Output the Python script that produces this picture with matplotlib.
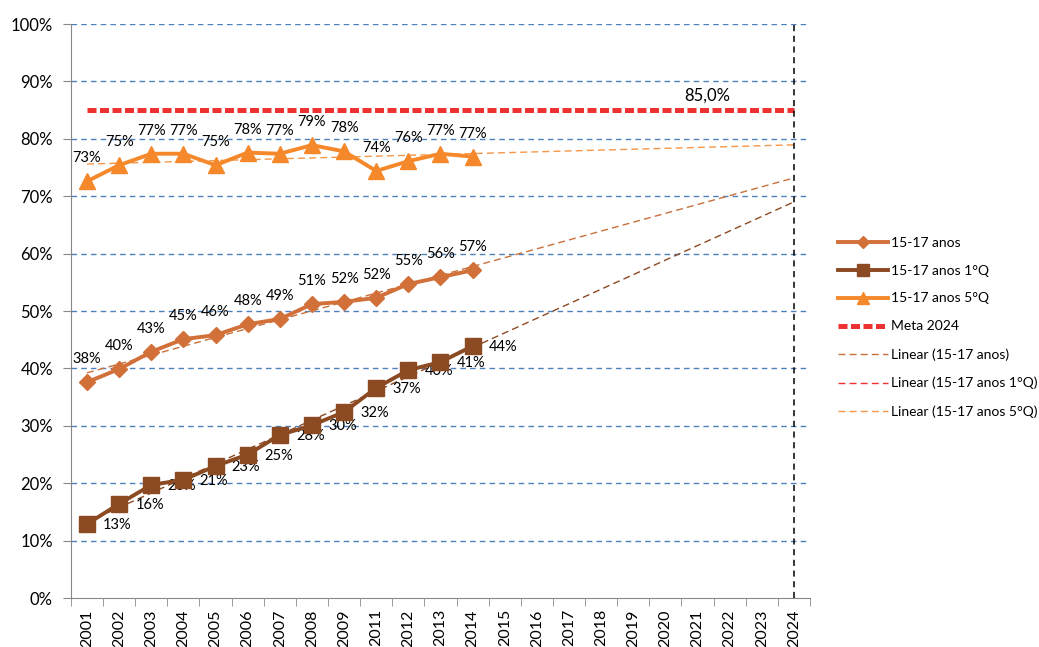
import numpy as np
import matplotlib
matplotlib.use("Agg")
import matplotlib.pyplot as plt
from matplotlib.lines import Line2D

plt.rcParams['font.family'] = ['Lato', 'DejaVu Sans']

anos = ['2001', '2002', '2003', '2004', '2005', '2006', '2007', '2008', '2009',
        '2011', '2012', '2013', '2014', '2015', '2016', '2017', '2018', '2019',
        '2020', '2021', '2022', '2023', '2024']

# taxas observadas (%), 2001-2014
total = [37.6, 39.9, 42.9, 45.1, 45.8, 47.7, 48.6, 51.2, 51.6, 52.3, 54.7, 55.9, 57.1]
q1 = [12.9, 16.4, 19.7, 20.6, 23.0, 25.0, 28.4, 30.1, 32.4, 36.6, 39.7, 41.1, 43.9]
q5 = [72.6, 75.4, 77.4, 77.4, 75.4, 77.6, 77.4, 78.9, 77.8, 74.4, 76.1, 77.4, 76.9]
meta = 85.0

c_total = '#D2703A'
c_q1 = '#8B4A22'
c_q5 = '#F5882A'
c_meta = '#EE3232'
c_grid = '#4F81BD'

fig = plt.figure(figsize=(10.39, 6.47), dpi=100)
ax = fig.add_axes([0.0683, 0.0757, 0.7113, 0.8872])

n = len(anos)
x_all = np.arange(n)
x_obs = np.arange(len(total))

for y in range(10, 101, 10):
    ax.axhline(y, color=c_grid, lw=1, dashes=(4, 3), zorder=1)

# tendências lineares prolongadas até 2024
def tendencia(vals, cor):
    a, b = np.polyfit(x_obs, vals, 1)
    ax.plot(x_all, a * x_all + b, color=cor, lw=1.0, dashes=(5, 3), zorder=2)

tendencia(total, '#C8703C')
tendencia(q1, '#8B4A22')
tendencia(q5, '#F79646')

ax.plot(x_all, [meta] * n, color=c_meta, lw=3.6, dashes=(1.8, 0.7), zorder=3)
ax.text(19.3, 87.6, '85,0%', fontsize=12, ha='center', va='center')

ax.plot(x_obs, total, color=c_total, lw=2.8, marker='D', ms=8, zorder=4)
ax.plot(x_obs, q1, color=c_q1, lw=2.8, marker='s', ms=11, zorder=4)
ax.plot(x_obs, q5, color=c_q5, lw=2.8, marker='^', ms=12, zorder=4)

for xi, v in zip(x_obs, total):
    ax.text(xi, v + 4.0, '%d%%' % round(v), fontsize=10.5, ha='center', va='center')
for xi, v in zip(x_obs, q5):
    ax.text(xi, v + 4.0, '%d%%' % round(v), fontsize=10.5, ha='center', va='center')
for xi, v in zip(x_obs, q1):
    ax.text(xi + 0.95, v - 0.2, '%d%%' % round(v), fontsize=10.5, ha='center', va='center')

ax.axvline(n - 1, ymin=0, ymax=1, color='black', lw=1.1, dashes=(4, 3), zorder=3)

ax.set_xlim(-0.5, n - 0.5)
ax.set_ylim(0, 100)
ax.set_yticks(range(0, 101, 10))
ax.set_yticklabels(['%d%%' % v for v in range(0, 101, 10)], fontsize=12)
ax.set_xticks(x_all)
ax.set_xticklabels(anos, rotation=90, fontsize=11.5)
ax.set_xticks(np.arange(-0.5, n, 1), minor=True)
ax.tick_params(axis='x', which='major', length=0, pad=8)
ax.tick_params(axis='x', which='minor', length=6, color='#888888')
ax.tick_params(axis='y', length=6, color='#888888', pad=7)

for s in ['top', 'right']:
    ax.spines[s].set_visible(False)
ax.spines['left'].set_color('#888888')
ax.spines['bottom'].set_color('#888888')

handles = [
    Line2D([], [], color=c_total, lw=2.8, marker='D', ms=6),
    Line2D([], [], color=c_q1, lw=2.8, marker='s', ms=9),
    Line2D([], [], color=c_q5, lw=2.8, marker='^', ms=9),
    Line2D([], [], color=c_meta, lw=3.6, dashes=(1.8, 0.7)),
    Line2D([], [], color='#C8703C', lw=1.0, dashes=(5, 3)),
    Line2D([], [], color='#EE3232', lw=1.0, dashes=(5, 3)),
    Line2D([], [], color='#F79646', lw=1.0, dashes=(5, 3)),
]
labels = ['15-17 anos', '15-17 anos 1°Q', '15-17 anos 5°Q', 'Meta 2024',
          'Linear (15-17 anos)', 'Linear (15-17 anos 1°Q)', 'Linear (15-17 anos 5°Q)']
fig.legend(handles, labels, loc='upper left', bbox_to_anchor=(0.801, 0.643),
           frameon=False, fontsize=10, handlelength=3.6, handletextpad=0.2,
           labelspacing=1.15, borderaxespad=0)

fig.savefig('out.png', dpi=100)
